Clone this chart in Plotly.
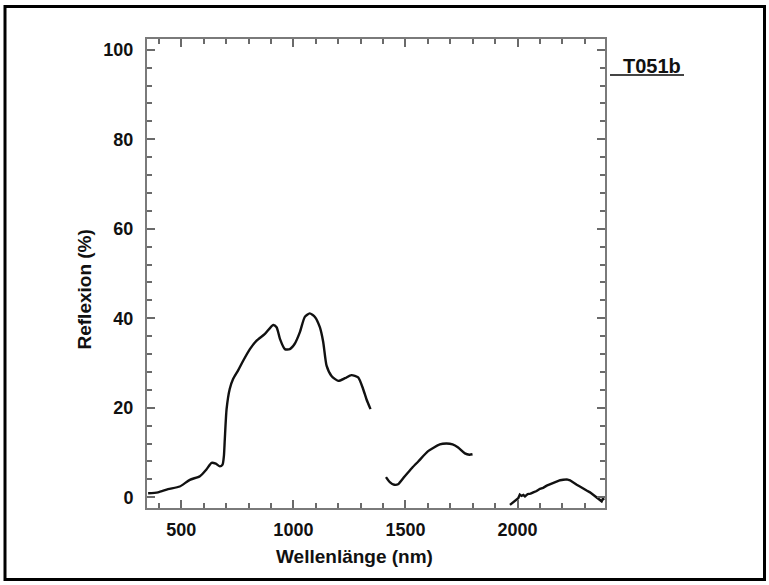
import plotly.graph_objects as go

# ---- data ----
wl_vis = [352, 396, 441, 493, 538, 583, 612, 635, 654, 672, 684, 690, 694, 702, 716, 731, 753, 776,
          806, 836, 873, 910, 925, 940, 962, 984, 1006, 1029, 1051, 1073, 1096, 1118, 1133, 1148,
          1170, 1200, 1230, 1259, 1289, 1311, 1326, 1344]
refl_vis = [0.9, 1.1, 1.8, 2.4, 3.9, 4.7, 6.2, 7.7, 7.5, 6.9, 7.3, 9.2, 12.9, 19.7, 24.2, 26.4, 28.3, 30.5,
            33.1, 35.0, 36.5, 38.5, 38.0, 35.4, 33.1, 33.1, 34.3, 36.9, 40.3, 41.1, 40.3, 38.0, 34.7, 29.4,
            27.1, 26.0, 26.6, 27.3, 26.8, 24.2, 21.9, 19.7]

wl_swir1 = [1413, 1430, 1450, 1467, 1497, 1530, 1557, 1601, 1653, 1683, 1710, 1735, 1765, 1785, 1799]
refl_swir1 = [4.5, 3.4, 2.8, 2.9, 4.7, 6.6, 8.0, 10.3, 11.8, 12.0, 11.8, 11.1, 9.8, 9.5, 9.6]

wl_swir2 = [1966, 1980, 1988, 1996, 2003, 2010, 2018, 2026, 2033, 2045, 2058, 2070, 2085, 2100, 2114,
            2130, 2145, 2159, 2175, 2190, 2204, 2220, 2234, 2250, 2264, 2278, 2293, 2308, 2323, 2338,
            2350, 2360, 2368, 2375, 2381, 2386]
refl_swir2 = [-1.7, -1.2, -0.9, -0.5, -0.2, 0.6, 0.3, 0.5, 0.2, 0.7, 0.8, 1.1, 1.4, 1.9, 2.1,
              2.6, 2.9, 3.2, 3.5, 3.8, 3.9, 4.0, 3.8, 3.2, 2.8, 2.4, 1.9, 1.5, 1.1, 0.5,
              0.1, -0.2, -0.5, -0.9, -0.3, -0.6]

x_range = [347, 2390]
y_range = [-2.4, 102.4]
x_ticks = [500, 1000, 1500, 2000]
y_ticks = [0, 20, 40, 60, 80, 100]
sample_id = "T051b"
x_title = "Wellenlänge (nm)"
y_title = "Reflexion (%)"

# ---- layout geometry ----
W, H = 769, 585
ML, MR, MT, MB = 147, 164, 39, 77
PW, PH = W - ML - MR, H - MT - MB


def px(x):
    return (x - ML) / PW


def py(y):
    return (H - MB - y) / PH


FONT = "Liberation Sans, Arial, sans-serif"
LINE = dict(color="#111111", width=2.4)

fig = go.Figure()
fig.add_trace(go.Scatter(x=wl_vis, y=refl_vis, mode="lines", line=dict(**LINE, shape="spline", smoothing=0.6)))
fig.add_trace(go.Scatter(x=wl_swir1, y=refl_swir1, mode="lines", line=dict(**LINE, shape="spline", smoothing=0.6)))
fig.add_trace(go.Scatter(x=wl_swir2, y=refl_swir2, mode="lines", line=dict(**LINE)))

axis_common = dict(
    showline=True, linecolor="#7a7a7a", linewidth=2, mirror="ticks",
    ticks="inside", tickcolor="#6a6a6a", tickwidth=2, ticklen=8,
    showgrid=False, zeroline=False,
    tickfont=dict(family=FONT, size=18, color="#111111", weight="bold"),
)

fig.update_xaxes(
    range=x_range, tickvals=x_ticks, ticktext=[str(v) for v in x_ticks],
    minor=dict(dtick=100, tick0=0, ticks="inside", ticklen=5, tickwidth=2, tickcolor="#6a6a6a", showgrid=False),
    ticklabelstandoff=4,
    **axis_common,
)
fig.update_yaxes(
    range=y_range, tickvals=y_ticks, ticktext=[str(v) for v in y_ticks],
    minor=dict(dtick=4, tick0=0, ticks="inside", ticklen=5, tickwidth=2, tickcolor="#6a6a6a", showgrid=False),
    ticklabelstandoff=8,
    **axis_common,
)

shapes = [
    # outer frame
    dict(type="rect", xref="paper", yref="paper",
         x0=px(5), x1=px(764.5), y0=py(579.5), y1=py(6.5),
         line=dict(color="#000000", width=3), fillcolor="rgba(0,0,0,0)", layer="above"),
    # underline of sample id
    dict(type="line", xref="paper", yref="paper",
         x0=px(610), x1=px(684), y0=py(75), y1=py(75),
         line=dict(color="#444444", width=2)),
]

annotations = [
    dict(text=sample_id, xref="paper", yref="paper", x=px(652), y=py(65.5),
         xanchor="center", yanchor="middle", showarrow=False,
         font=dict(family=FONT, size=20, color="#111111", weight="bold")),
    dict(text=x_title, xref="paper", yref="paper", x=px(354), y=py(556),
         xanchor="center", yanchor="middle", showarrow=False,
         font=dict(family=FONT, size=19, color="#111111", weight="bold")),
    dict(text=y_title, xref="paper", yref="paper", x=px(83.5), y=py(290),
         xanchor="center", yanchor="middle", showarrow=False, textangle=-90,
         font=dict(family=FONT, size=19, color="#111111", weight="bold")),
]

fig.update_layout(
    width=W, height=H,
    margin=dict(l=ML, r=MR, t=MT, b=MB, pad=0),
    paper_bgcolor="white", plot_bgcolor="white",
    showlegend=False,
    shapes=shapes, annotations=annotations,
)

fig.write_html("out.html", config={"displayModeBar": False})
